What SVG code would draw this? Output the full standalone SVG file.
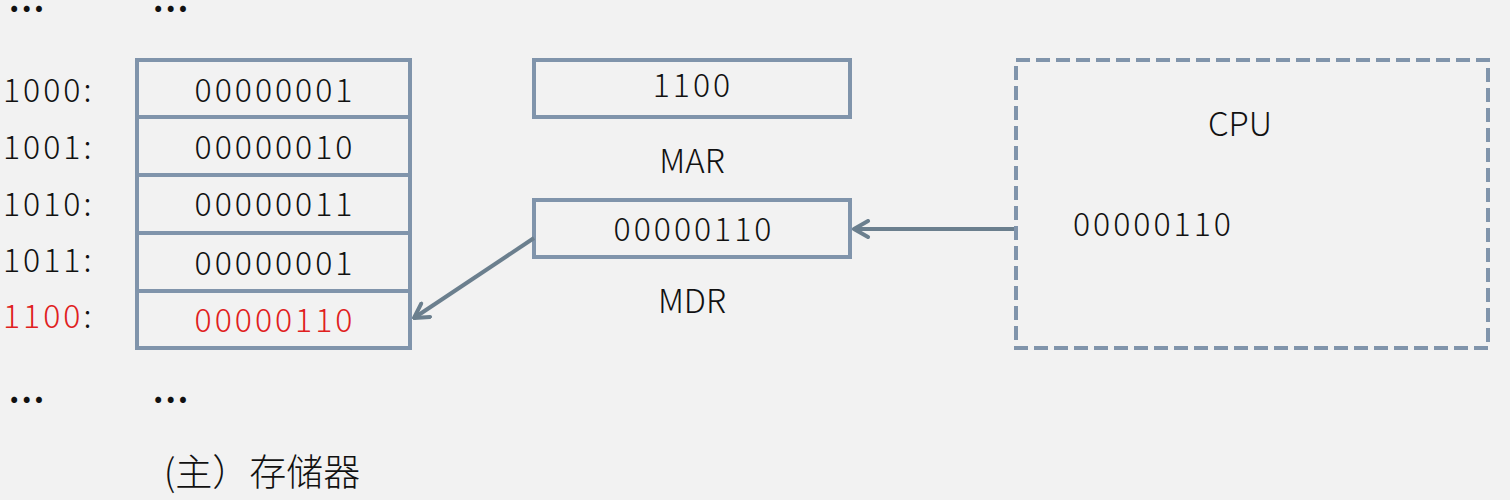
<svg xmlns="http://www.w3.org/2000/svg" width="1510" height="500" viewBox="0 0 1510 500">
<defs>
<style>
text{font-family:"Noto Sans CJK SC","Noto Sans",sans-serif;font-weight:300;font-size:32px;fill:#111}
.n{letter-spacing:3px}
.l{font-size:33px}
.c{text-anchor:middle}
.red{fill:#e02020}
.dots{font-weight:700;letter-spacing:2px}
.cjk{font-size:37px}
.box{fill:none;stroke:#8094ab;stroke-width:4}
.dash{fill:none;stroke:#8094ab;stroke-width:4;stroke-dasharray:14 6}
.conn{fill:none;stroke:#6b7f8e;stroke-width:4}
</style>
<marker id="arr" viewBox="0 0 20 20" refX="18" refY="10" markerWidth="20" markerHeight="20" orient="auto" markerUnits="userSpaceOnUse">
<path d="M4,2 L18,10 L4,18" fill="none" stroke="#6b7f8e" stroke-width="4" stroke-linecap="round" stroke-linejoin="round"/>
</marker>
</defs>
<rect width="1510" height="500" fill="#f2f2f2"/>
<g id="dots">
<text class="dots" x="9" y="12">...</text>
<text class="dots" x="153" y="12">...</text>
<text class="dots" x="9" y="403">...</text>
<text class="dots" x="153" y="403">...</text>
</g>
<g id="memory">
<rect class="box" x="137" y="60" width="273" height="288"/>
<line class="box" x1="137" y1="117" x2="410" y2="117"/>
<line class="box" x1="137" y1="175" x2="410" y2="175"/>
<line class="box" x1="137" y1="233" x2="410" y2="233"/>
<line class="box" x1="137" y1="291" x2="410" y2="291"/>
<text class="c n" x="275" y="102">00000001</text>
<text class="c n" x="275" y="159">00000010</text>
<text class="c n" x="275" y="216">00000011</text>
<text class="c n" x="275" y="275">00000001</text>
<text class="c n red" x="275" y="332">00000110</text>
<text class="n" x="3" y="102">1000:</text>
<text class="n" x="3" y="159">1001:</text>
<text class="n" x="3" y="216">1010:</text>
<text class="n" x="3" y="272">1011:</text>
<text class="n" x="3" y="328"><tspan class="red">1100</tspan>:</text>
<text class="c cjk" x="262" y="486">(主）存储器</text>
</g>
<g id="mar">
<rect class="box" x="534" y="60" width="316" height="57"/>
<text class="c n" x="693" y="97">1100</text>
<text class="c l" x="692" y="173">MAR</text>
</g>
<g id="mdr">
<rect class="box" x="534" y="200" width="316" height="57"/>
<text class="c n" x="694" y="241">00000110</text>
<text class="c l" x="692" y="313">MDR</text>
</g>
<g id="cpu">
<rect class="dash" x="1016" y="60" width="472" height="288"/>
<text class="c l" x="1240" y="136">CPU</text>
<text class="n" x="1073" y="236">00000110</text>
</g>
<g id="connectors">
<line class="conn" x1="1014" y1="229" x2="854" y2="229" marker-end="url(#arr)"/>
<line class="conn" x1="534" y1="238" x2="414" y2="318" marker-end="url(#arr)"/>
</g>
</svg>
